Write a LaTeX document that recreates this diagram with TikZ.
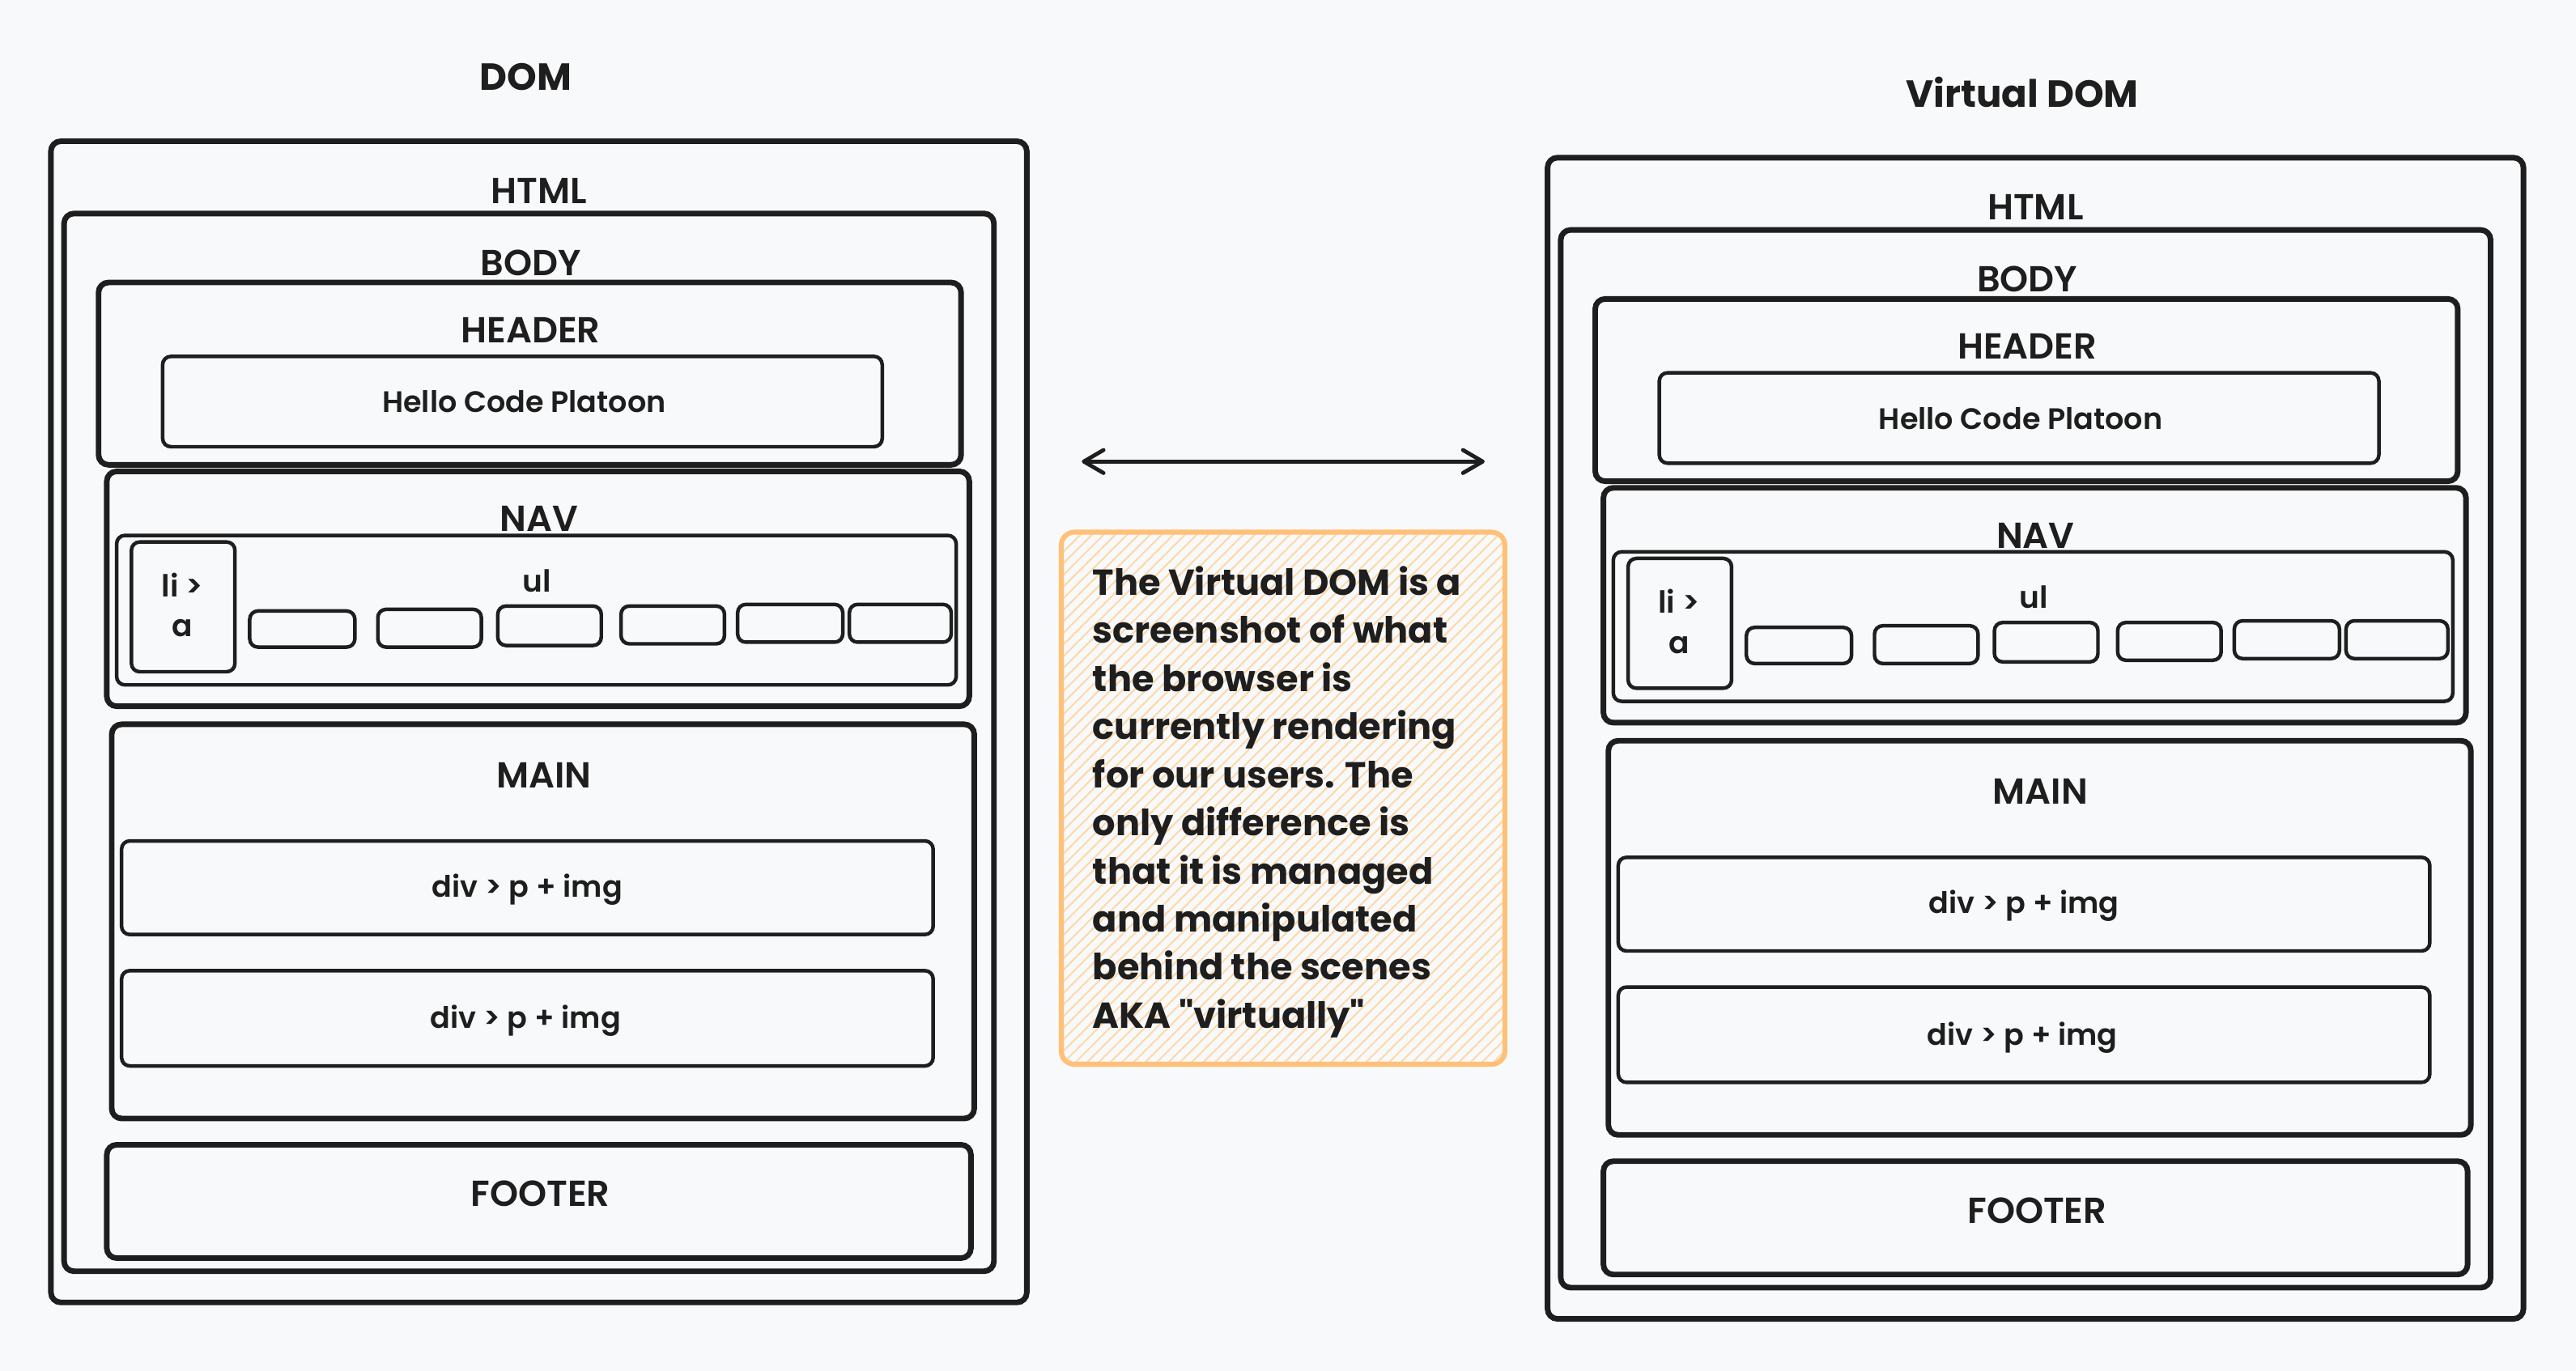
\documentclass[tikz,border=0pt]{standalone}
\usepackage{fontspec}
\setmainfont{Poppins}
\newfontfamily\lblfont{Poppins SemiBold}
\newfontfamily\notefont{Poppins}
\usetikzlibrary{fit,arrows.meta,patterns.meta}
\definecolor{ink}{HTML}{1E1E1E}
\definecolor{bg}{HTML}{F8F9FA}
\definecolor{noteline}{HTML}{FFC078}
\definecolor{notehatch}{HTML}{FFD8A8}
\tikzset{
  thickbox/.style={draw=ink, line width=3.4pt, rounded corners=6pt, inner sep=0pt},
  thinbox/.style={draw=ink, line width=2.2pt, rounded corners=5pt, inner sep=0pt},
  lblbase/.style={text=ink, inner sep=0pt, text depth=0pt},
  titlelbl/.style={lblbase, text height=16.1pt, font=\fontsize{23}{28}\selectfont\bfseries},
  biglbl/.style={lblbase, text height=15.4pt, font=\fontsize{22}{26}\selectfont\lblfont},
  midlbl/.style={lblbase, text height=12.6pt, font=\fontsize{18}{22}\selectfont\lblfont},
  smalllbl/.style={lblbase, text height=12.6pt, font=\fontsize{18.5}{22}\selectfont\lblfont},
  notebox/.style={draw=noteline, line width=3pt, rounded corners=8pt, inner sep=0pt,
     pattern={Lines[angle=45, distance=5pt, line width=1pt]}, pattern color=notehatch},
  notetext/.style={text=ink, inner sep=0pt, align=left, font=\fontsize{22}{29.3}\selectfont\notefont\bfseries},
  dblarrow/.style={draw=ink, line width=2.4pt, line cap=round,
     {Straight Barb[length=12pt, width=14pt, line cap=round, line join=round]}-{Straight Barb[length=12pt, width=14pt, line cap=round, line join=round]}}
}
\newcommand\domtree[2]{%
  \node[titlelbl] (#1title) at (320,47) {#2};
  \node[thickbox, fit={(31,86) (625,793)}] (#1html) {};
  \node[biglbl] (#1htmlL) at (328,116) {HTML};
  \node[thickbox, fit={(39,130) (605,774)}] (#1body) {};
  \node[biglbl] (#1bodyL) at (323,160) {BODY};
  \node[thickbox, fit={(60,172) (585,283)}] (#1header) {};
  \node[biglbl] (#1headerL) at (323,201) {HEADER};
  \node[thinbox, fit={(99,217) (537,272)}] (#1hello) {};
  \node[midlbl] (#1helloL) at (319,245) {Hello Code Platoon};
  \node[thickbox, fit={(65,287) (590,430)}] (#1nav) {};
  \node[biglbl] (#1navL) at (328,316) {NAV};
  \node[thinbox, fit={(71,326) (582,417)}] (#1ul) {};
  \node[smalllbl] (#1ulL) at (327,354) {ul};
  \node[thinbox, fit={(80,330) (143,409)}] (#1li) {};
  \node[smalllbl] (#1liL) at (111,357) {li >};
  \node[smalllbl] (#1liA) at (111,381.5) {a};
  \node[thinbox, fit={(152,372) (216,394)}] (#1sa) {};
  \node[thinbox, fit={(230,371) (293,394)}] (#1sb) {};
  \node[thinbox, fit={(303,369) (366,393)}] (#1sc) {};
  \node[thinbox, fit={(378,369) (441,392)}] (#1sd) {};
  \node[thinbox, fit={(449,368) (513,391)}] (#1se) {};
  \node[thinbox, fit={(517,368) (579,391)}] (#1sf) {};
  \node[thickbox, fit={(68,441) (593,681)}] (#1main) {};
  \node[biglbl] (#1mainL) at (331,472) {MAIN};
  \node[thinbox, fit={(74,512) (568,569)}] (#1diva) {};
  \node[midlbl] (#1divaL) at (321,540) {div > p + img};
  \node[thinbox, fit={(74,591) (568,649)}] (#1divb) {};
  \node[midlbl] (#1divbL) at (320,620) {div > p + img};
  \node[thickbox, fit={(65,697) (591,766)}] (#1footer) {};
  \node[biglbl] (#1footerL) at (329,727) {FOOTER};
}
\begin{document}
\begin{tikzpicture}[x=1pt, y=-1pt]
  \fill[bg] (0,0) rectangle (1568,834.75);
  \useasboundingbox (0,0) rectangle (1568,834.75);
  \begin{scope}
    \domtree{L}{DOM}
  \end{scope}
  \begin{scope}[shift={(911,10)}]
    \domtree{R}{Virtual DOM}
  \end{scope}
  \coordinate (arL) at (658.5,281);
  \coordinate (arR) at (903.7,281);
  \draw[dblarrow] (arL) -- (arR);
  \node[notebox, fit={(646,324) (916,648)}] (note) {};
  \node[notetext, anchor=north west] (noteT) at (665,344.5) {The Virtual DOM is a\\screenshot of what\\the browser is\\currently rendering\\for our users. The\\only difference is\\that it is managed\\and manipulated\\behind the scenes\\AKA "virtually"};
\end{tikzpicture}
\end{document}
